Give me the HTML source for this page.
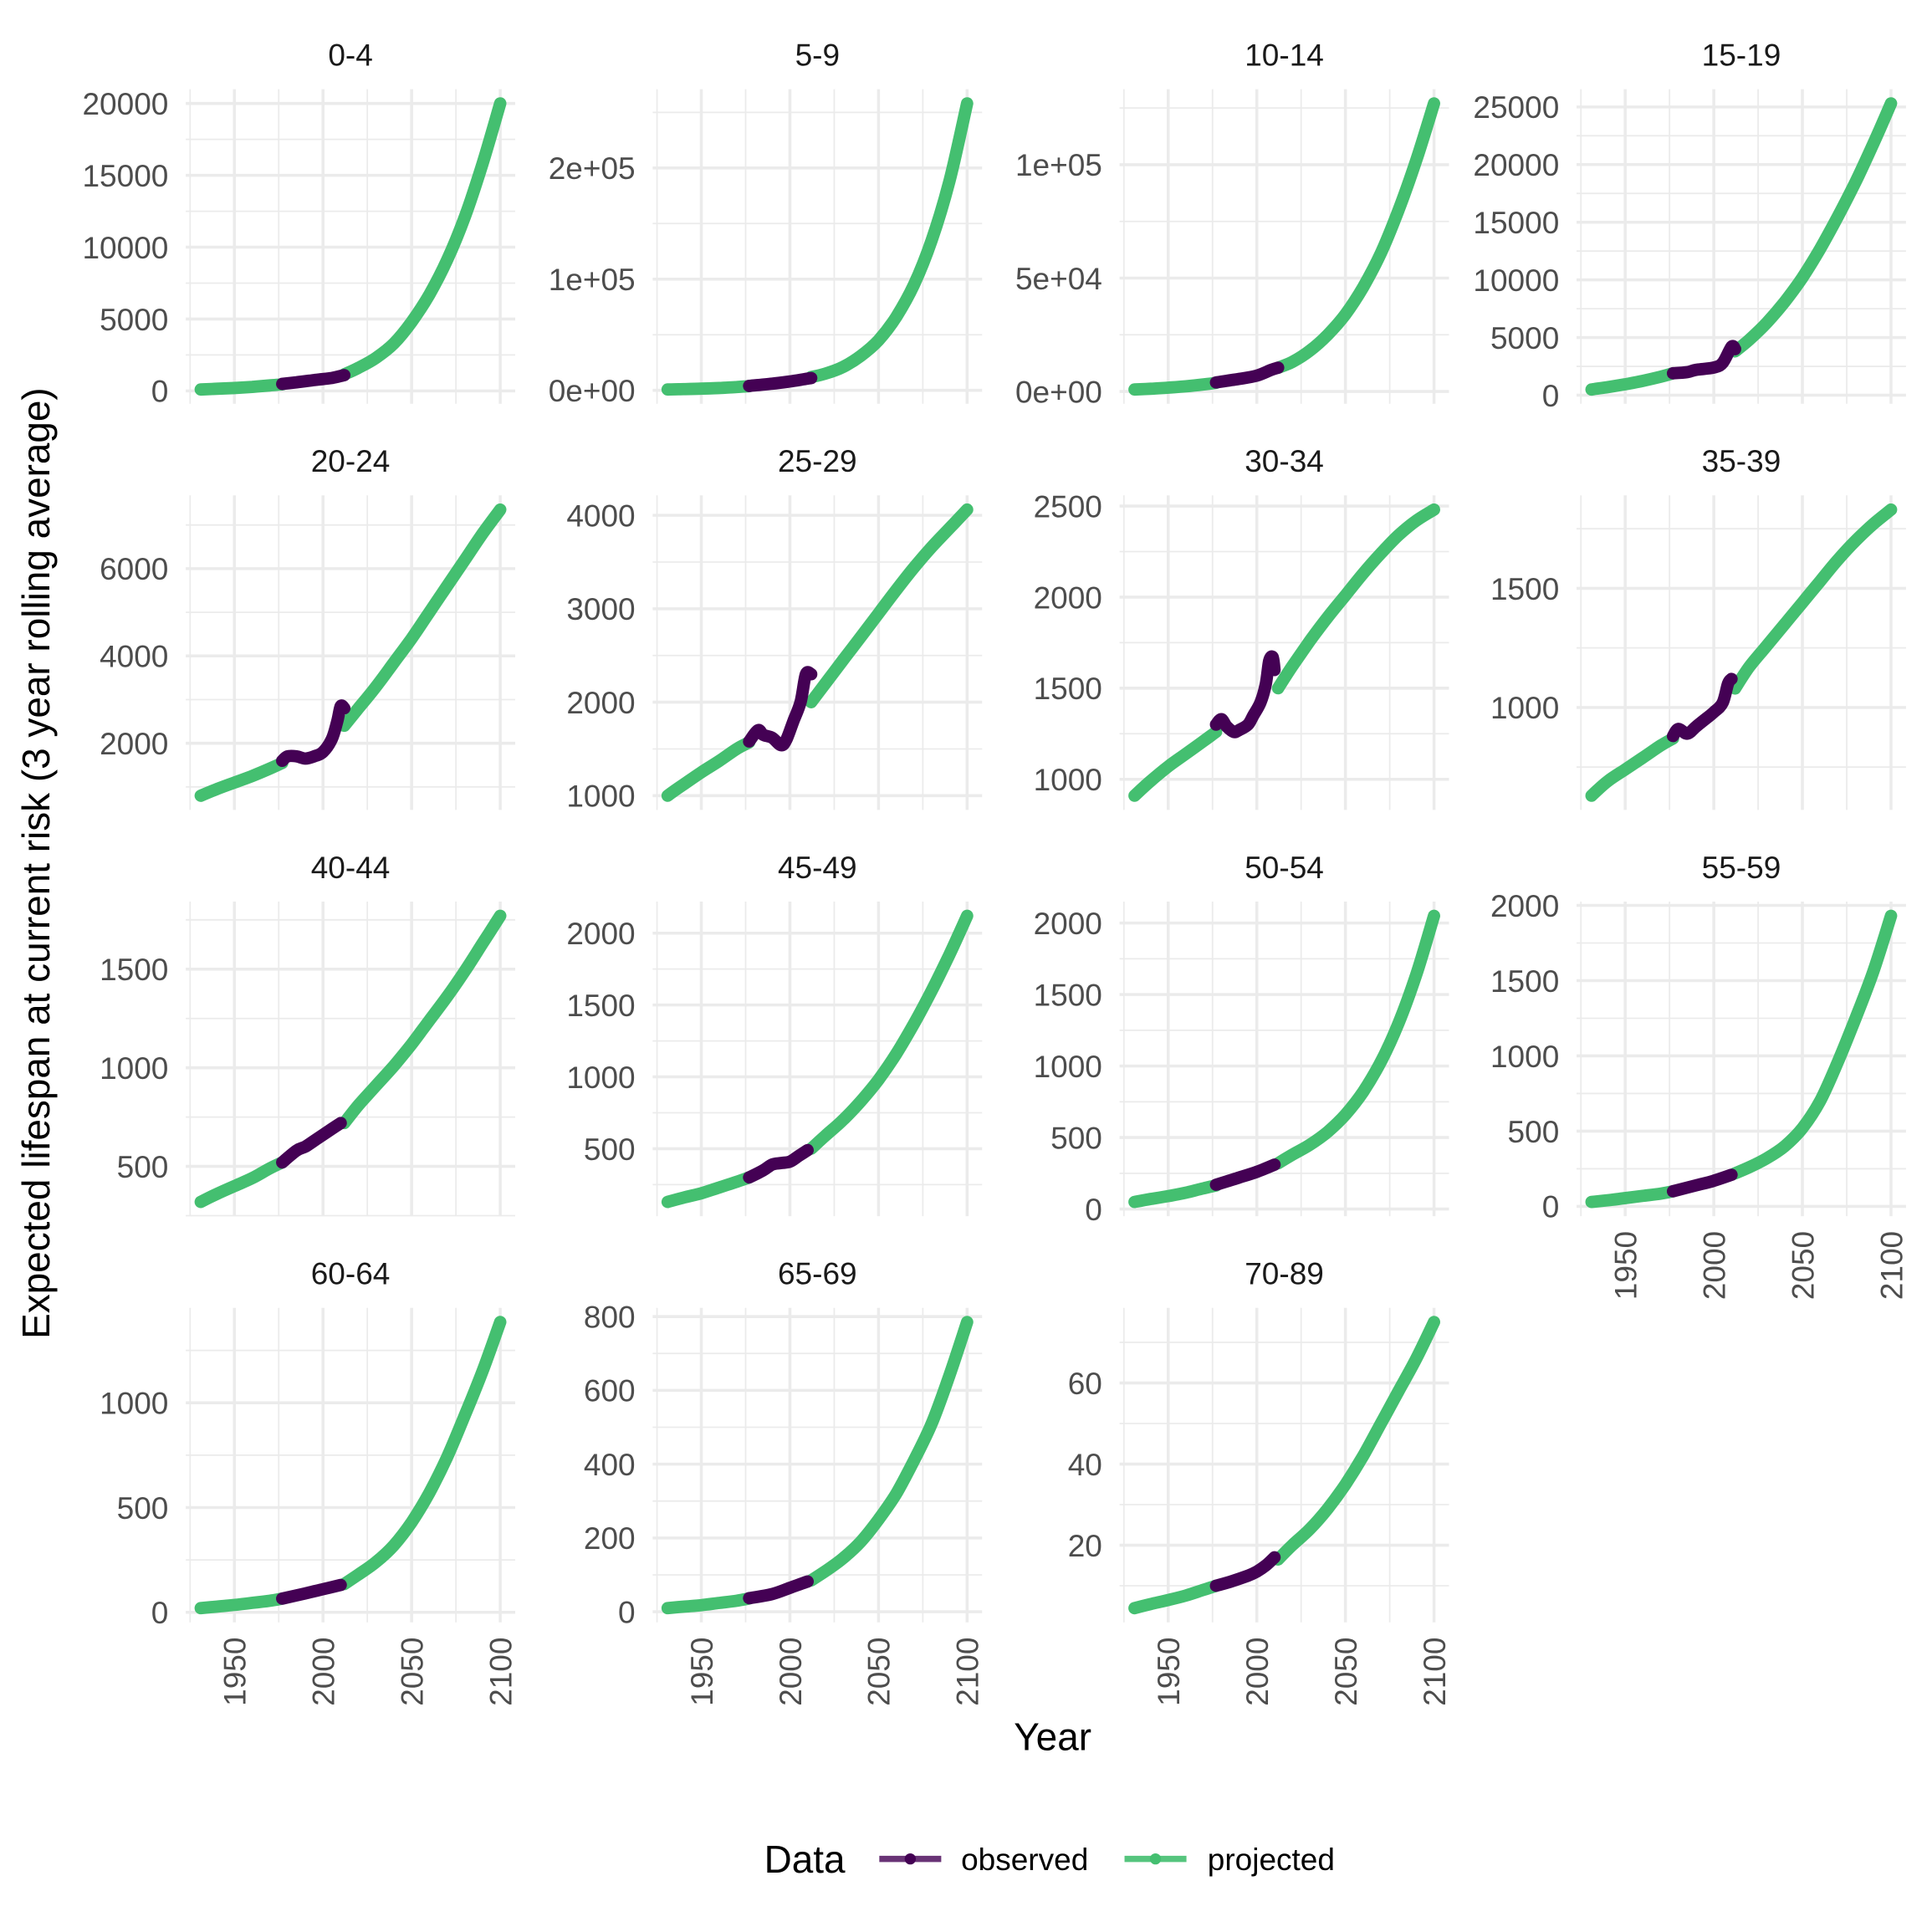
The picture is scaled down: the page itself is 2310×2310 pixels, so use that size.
<!DOCTYPE html>
<html><head><meta charset="utf-8"><style>
html,body{margin:0;padding:0;background:#fff}
svg{display:block;font-family:"Liberation Sans",sans-serif}
</style></head><body>
<svg id="chart" width="2310" height="2310" viewBox="0 0 1560 1560" xmlns="http://www.w3.org/2000/svg">
<rect width="1560" height="1560" fill="#fff"/>
<g id="panels"></g>
<text x="850" y="1413" font-size="31" text-anchor="middle" fill="#000">Year</text>
<text transform="translate(40,697) rotate(-90)" font-size="31" text-anchor="middle" fill="#000">Expected lifespan at current risk (3 year rolling average)</text>
<g>
<text x="617" y="1512" font-size="31" fill="#000">Data</text>
<g>
<line x1="710" y1="1501" x2="760" y2="1501" stroke="#440154" stroke-opacity="0.8" stroke-width="5"/>
<circle cx="735" cy="1501" r="4.5" fill="#440154"/>
<text x="776" y="1510" font-size="25" fill="#000">observed</text></g>
<g>
<line x1="908" y1="1501" x2="958" y2="1501" stroke="#44bf70" stroke-opacity="0.9" stroke-width="5"/>
<circle cx="933" cy="1501" r="4.5" fill="#44bf70"/>
<text x="975" y="1510" font-size="25" fill="#000">projected</text></g>
</g>
</svg>
<script>
const panelNames = ["0-4","5-9","10-14","15-19","20-24","25-29","30-34","35-39","40-44","45-49","50-54","55-59","60-64","65-69","70-89"];
const preYears = [1931,1940,1950,1960,1970,1977];
const postYears = [2012,2020,2030,2040,2050,2060,2070,2080,2090,2100];
const preVals = [
 [100,150,200,280,380,450],[800,1100,1500,2100,3000,3800],[900,1200,1700,2300,3100,3800],[500,700,950,1250,1600,1900],
 [800,950,1100,1250,1420,1550],[1000,1120,1250,1370,1500,1570],[910,990,1070,1140,1210,1260],[630,690,740,790,840,870],
 [320,360,400,440,490,520],[130,160,190,230,270,300],[50,70,90,115,145,165],[30,40,55,70,85,100],
 [20,27,35,45,55,65],[10,14,18,24,30,36],[4.5,5.5,6.5,7.6,9,10]];
const postVals = [
 [1150,1600,2300,3300,4800,6700,9100,12100,15800,20000],
 [12000,15000,21000,31000,45000,66000,95000,135000,188000,258000],
 [10500,13000,18000,25000,34000,46000,61000,80000,102000,127000],
 [3800,4800,6300,8100,10200,12700,15500,18500,21800,25300],
 [2400,2800,3300,3850,4400,5000,5600,6200,6800,7350],
 [2000,2200,2450,2700,2950,3200,3440,3660,3860,4060],
 [1500,1620,1760,1890,2010,2130,2240,2340,2420,2480],
 [1080,1170,1260,1350,1440,1530,1620,1700,1770,1830],
 [720,810,910,1010,1120,1240,1360,1490,1630,1770],
 [500,590,700,830,980,1160,1370,1600,1850,2120],
 [320,380,450,540,660,820,1030,1300,1640,2050],
 [220,260,320,400,520,700,960,1250,1560,1930],
 [135,180,240,320,430,570,740,940,1150,1385],
 [85,110,145,190,250,320,410,510,640,785],
 [16.5,20,24,29,35,42,50,58,66,75]];
const obsYears = [
 [1977,1985,1995,2005,2012],[1977,1990,2000,2012],[1977,1990,2000,2008,2012],[1977,1985,1990,2000,2005,2010,2012],
 [1977,1980,1985,1990,1995,2000,2005,2008,2010,2012],[1977,1982,1985,1990,1995,1998,2002,2006,2009,2012],
 [1977,1980,1983,1987,1990,1995,1998,2002,2005,2007,2009,2010],[1977,1980,1985,1990,1995,2000,2005,2008,2010],
 [1977,1985,1990,1995,2000,2005,2010],[1977,1985,1990,1995,2000,2005,2010],[1977,1990,2000,2010],[1977,1990,2000,2010],
 [1977,1990,2000,2010],[1977,1990,2000,2010],[1977,1985,1995,2000,2005,2010]];
const obsVals = [
 [480,600,750,900,1100],[4000,6000,8000,11000],[4000,5500,7000,9500,10500],[1900,2000,2200,2400,2800,4200,4000],
 [1600,1700,1700,1650,1700,1800,2100,2500,2850,2800],[1580,1700,1650,1620,1540,1600,1800,2000,2300,2300],
 [1300,1330,1290,1260,1270,1300,1350,1420,1520,1650,1670,1600],[880,910,890,920,950,980,1020,1100,1120],
 [520,580,600,630,660,690,720],[300,350,390,400,410,450,490],[170,220,260,310],[100,140,170,210],
 [65,90,110,130],[37,48,65,82],[10,11,12.5,13.5,15,17]];
const yTickLabels = [
 ["0","5000","10000","15000","20000"],["0e+00","1e+05","2e+05"],["0e+00","5e+04","1e+05"],["0","5000","10000","15000","20000","25000"],
 ["2000","4000","6000"],["1000","2000","3000","4000"],["1000","1500","2000","2500"],["1000","1500"],
 ["500","1000","1500"],["500","1000","1500","2000"],["0","500","1000","1500","2000"],["0","500","1000","1500","2000"],
 ["0","500","1000"],["0","200","400","600","800"],["20","40","60"]];
const xTicks = [1950,2000,2050,2100];

const NS="http://www.w3.org/2000/svg";
const colX=[150,527,904,1273], rowY=[72,400,728,1056], PW=266, PH=254;
const root=document.getElementById('panels');
function mk(tag,attrs,parent){const e=document.createElementNS(NS,tag);for(const k in attrs)e.setAttribute(k,attrs[k]);parent.appendChild(e);return e;}
const xMin=1931,xMax=2100,xPad=(xMax-xMin)*0.05;
function smooth(pts){
  if(pts.length<3)return pts.map((p,k)=>(k?'L':'M')+p[0].toFixed(1)+','+p[1].toFixed(1)).join(' ');
  let d='M'+pts[0][0].toFixed(1)+','+pts[0][1].toFixed(1);
  for(let k=0;k<pts.length-1;k++){
    const p0=pts[Math.max(0,k-1)],p1=pts[k],p2=pts[k+1],p3=pts[Math.min(pts.length-1,k+2)];
    const c1=[p1[0]+(p2[0]-p0[0])/6,p1[1]+(p2[1]-p0[1])/6],c2=[p2[0]-(p3[0]-p1[0])/6,p2[1]-(p3[1]-p1[1])/6];
    d+=' C'+c1[0].toFixed(1)+','+c1[1].toFixed(1)+' '+c2[0].toFixed(1)+','+c2[1].toFixed(1)+' '+p2[0].toFixed(1)+','+p2[1].toFixed(1);
  }
  return d;
}
panelNames.forEach((name,i)=>{
  const c=i%4,r=Math.floor(i/4),x0=colX[c],y0=rowY[r];
  const g=mk('g',{},root);
  
  
  const all=preVals[i].concat(postVals[i],obsVals[i]);
  const lo=Math.min(...all),hi=Math.max(...all),pad=(hi-lo)*0.05;
  const X=v=>x0+(v-(xMin-xPad))/((xMax+xPad)-(xMin-xPad))*PW;
  const Y=v=>y0+PH-(v-(lo-pad))/((hi+pad)-(lo-pad))*PH;
  const ticks=yTickLabels[i].map(t=>Number(t));
  const step=ticks.length>1?ticks[1]-ticks[0]:10;
  for(let v=ticks[0]-step/2;v<=hi+pad+step;v+=step){const yy=Y(v);if(yy>=y0&&yy<=y0+PH)mk('line',{x1:x0,x2:x0+PW,y1:yy,y2:yy,stroke:'#ebebeb','stroke-width':1.2},g);}
  [1925,1975,2025,2075].forEach(v=>{const xx=X(v);mk('line',{x1:xx,x2:xx,y1:y0,y2:y0+PH,stroke:'#ebebeb','stroke-width':1.2},g);});
  xTicks.forEach(v=>{const xx=X(v);mk('line',{x1:xx,x2:xx,y1:y0,y2:y0+PH,stroke:'#ebebeb','stroke-width':2.4},g);});
  ticks.forEach((v,k)=>{const yy=Y(v);mk('line',{x1:x0,x2:x0+PW,y1:yy,y2:yy,stroke:'#ebebeb','stroke-width':2.4},g);
    const t=mk('text',{x:x0-14,y:yy+9,'font-size':25,'text-anchor':'end',fill:'#4d4d4d'},g);t.textContent=yTickLabels[i][k];
    
    });
  const st=mk('text',{x:x0+PW/2,y:y0-19,'font-size':25,'text-anchor':'middle',fill:'#1a1a1a'},g);st.textContent=name;
  
  
  const path=(xs,ys)=>smooth(xs.map((v,k)=>[X(v),Y(ys[k])]));
  const p1=mk('path',{d:path(preYears,preVals[i]),fill:'none',stroke:'#44bf70','stroke-width':10,'stroke-linecap':'round','stroke-linejoin':'round'},g);
  
  
  const p2=mk('path',{d:path(postYears,postVals[i]),fill:'none',stroke:'#44bf70','stroke-width':10,'stroke-linecap':'round','stroke-linejoin':'round'},g);
  
  
  const p3=mk('path',{d:path(obsYears[i],obsVals[i]),fill:'none',stroke:'#440154','stroke-width':10,'stroke-linecap':'round','stroke-linejoin':'round'},g);
  
  
  const bottom=(r===3)||(r===2&&c===3);
  if(bottom){xTicks.forEach(v=>{const t=mk('text',{transform:`translate(${X(v)+9},${y0+PH+12}) rotate(-90)`,'font-size':25,'text-anchor':'end',fill:'#4d4d4d'},g);t.textContent=v;
    
    });}
});
</script>
</body></html>
